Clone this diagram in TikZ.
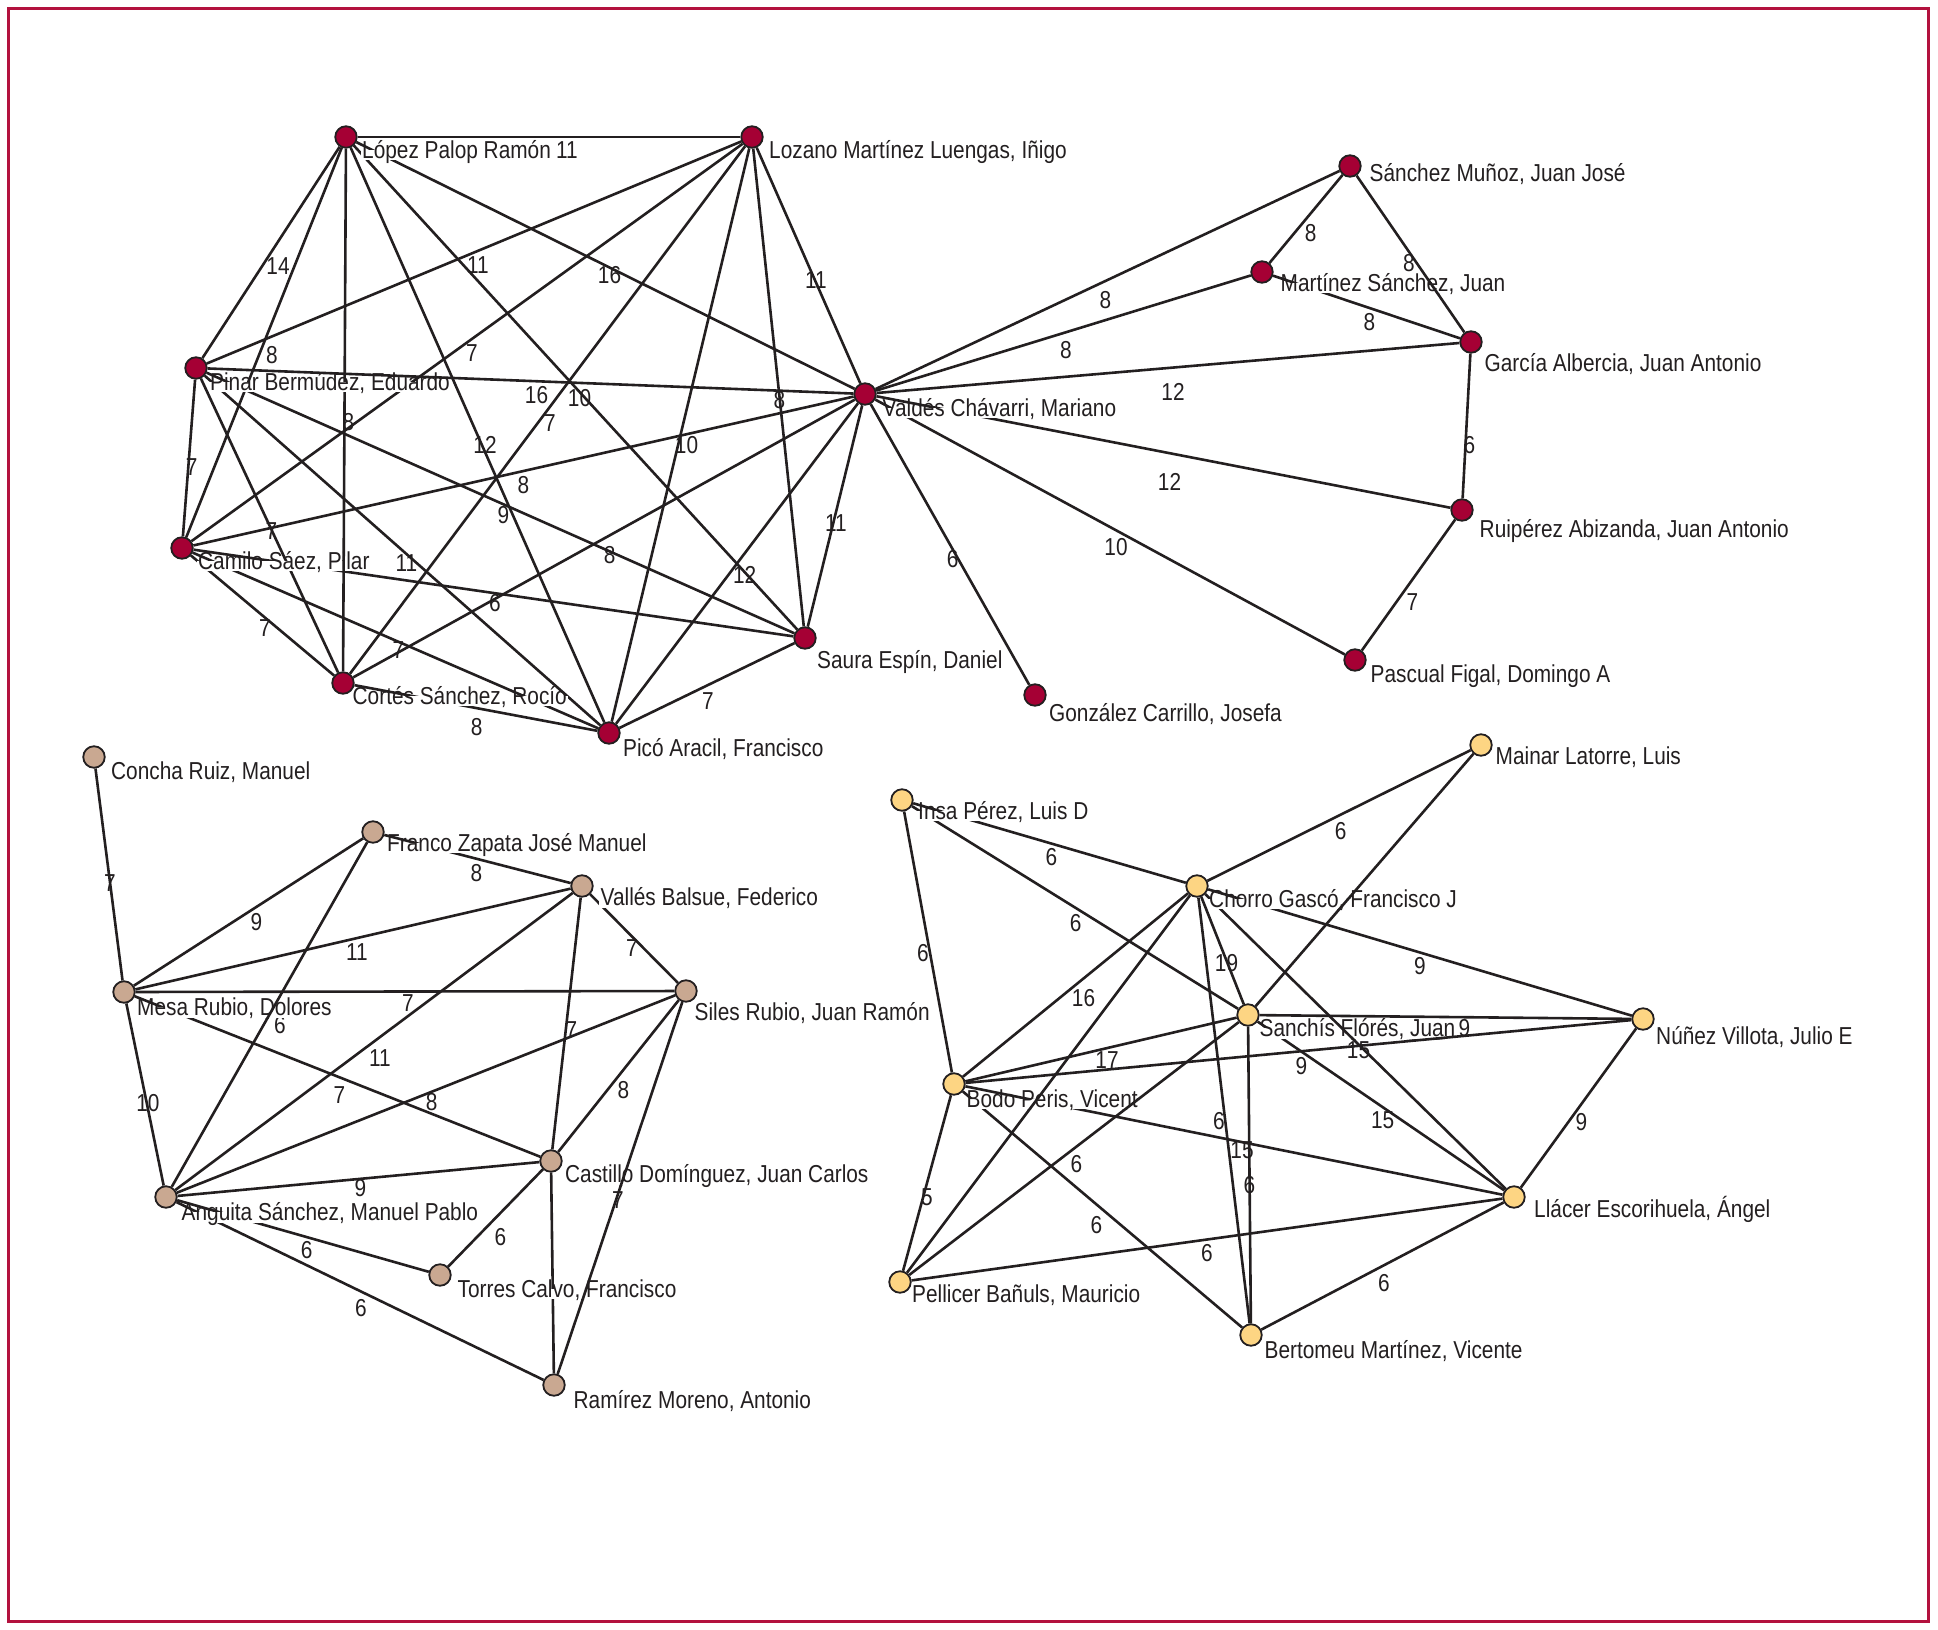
\documentclass[tikz,border=0pt]{standalone}
\usepackage{fontspec}
\setmainfont{Liberation Sans}[FakeStretch=0.85]
\definecolor{redc}{HTML}{A50034}
\definecolor{tanc}{HTML}{C9A891}
\definecolor{yelc}{HTML}{FDD583}
\definecolor{edgec}{HTML}{231F20}
\definecolor{framec}{HTML}{B3123E}
\pgfdeclarelayer{edgesl}
\pgfdeclarelayer{labelsl}
\pgfdeclarelayer{overl}
\pgfsetlayers{edgesl,labelsl,overl,main}
\tikzset{
 every node/.style={font=\fontsize{24.5}{29}\selectfont, text=edgec},
 vtx/.style={circle, draw=edgec, line width=1.8pt, minimum size=21.5pt, inner sep=0pt},
 rv/.style={vtx, fill=redc}, tv/.style={vtx, fill=tanc}, yv/.style={vtx, fill=yelc},
 edge/.style={draw=edgec, line width=2.6pt},
 nlab/.style={fill=white, inner sep=1.5pt, text height=0.72em, text depth=0.04em, anchor=west, yshift=-4pt},
 wl/.style 2 args={inner sep=0pt, xshift=#1pt, yshift=-#2pt},
}
\begin{document}
\begin{tikzpicture}[x=1pt,y=-1pt]
\useasboundingbox (0,0) rectangle (1938,1630);
\draw[framec, line width=3pt] (8.7,8.7) rectangle (1928.3,1621.6);
% ---------- vertices ----------
\node[rv] (L)  at (346,137) {};
\node[rv] (Lz) at (752,137) {};
\node[rv] (P)  at (196,368) {};
\node[rv] (V)  at (865,394) {};
\node[rv] (C)  at (182,548) {};
\node[rv] (Co) at (343,683) {};
\node[rv] (Pi) at (609,733) {};
\node[rv] (S)  at (805,638) {};
\node[rv] (G)  at (1035,695) {};
\node[rv] (SM) at (1350,166) {};
\node[rv] (MS) at (1262,272) {};
\node[rv] (Ga) at (1471,342) {};
\node[rv] (R)  at (1462,510) {};
\node[rv] (Pa) at (1355,660) {};
\node[tv] (Cn) at (94,757) {};
\node[tv] (F)  at (373,832) {};
\node[tv] (Va) at (582,886) {};
\node[tv] (M)  at (124,992) {};
\node[tv] (Si) at (686,991) {};
\node[tv] (Ca) at (551,1161) {};
\node[tv] (A)  at (166,1197) {};
\node[tv] (T)  at (440,1275) {};
\node[tv] (Ra) at (554,1385) {};
\node[yv] (I)  at (902,800) {};
\node[yv] (Ch) at (1197,886) {};
\node[yv] (Ma) at (1481,745) {};
\node[yv] (Sa) at (1248,1015) {};
\node[yv] (N)  at (1643,1019) {};
\node[yv] (B)  at (954,1084) {};
\node[yv] (Ll) at (1514,1197) {};
\node[yv] (Pe) at (900,1282) {};
\node[yv] (Be) at (1251,1335) {};
% ---------- edges ----------
\begin{pgfonlayer}{edgesl}
\draw[edge] (L) -- node[wl={18}{13}]{11} (Lz);
\draw[edge] (L) -- node[wl={7}{14}]{14} (P);
\draw[edge] (L) -- node[wl={8}{12.5}]{8} (C);
\draw[edge] (L) -- node[wl={4}{12}]{8} (Co);
\draw[edge] (L) -- node[wl={7.5}{10}]{12} (Pi);
\draw[edge] (L) -- node[wl={4}{10.5}]{10} (S);
\draw[edge] (L) -- node[wl={4}{9.5}]{16} (V);
\draw[edge] (Lz) -- node[wl={4}{12.5}]{11} (P);
\draw[edge] (Lz) -- node[wl={5}{11}]{7} (C);
\draw[edge] (Lz) -- node[wl={2.5}{13}]{7} (Co);
\draw[edge] (Lz) -- node[wl={6}{10}]{10} (Pi);
\draw[edge] (Lz) -- node[wl={1}{12.5}]{8} (S);
\draw[edge] (Lz) -- node[wl={7.5}{14.5}]{11} (V);
\draw[edge] (P) -- node[wl={6}{14}]{16} (V);
\draw[edge] (P) -- node[wl={2.6}{9}]{7} (C);
\draw[edge] (P) -- node[wl={2}{6}]{7} (Co);
\draw[edge] (P) -- node[wl={4}{13}]{11} (Pi);
\draw[edge] (P) -- node[wl={3}{12}]{9} (S);
\draw[edge] (C) -- node[wl={0}{14}]{8} (V);
\draw[edge] (C) -- node[wl={1.5}{10}]{6} (S);
\draw[edge] (C) -- node[wl={2.5}{13}]{7} (Co);
\draw[edge] (C) -- node[wl={3}{10}]{7} (Pi);
\draw[edge] (Co) -- node[wl={5.6}{16.5}]{8} (V);
\draw[edge] (Co) -- node[wl={0.7}{18.7}]{8} (Pi);
\draw[edge] (V) -- node[wl={7.7}{11.5}]{12} (Pi);
\draw[edge] (V) -- node[wl={1}{7}]{11} (S);
\draw[edge] (V) -- node[wl={2.7}{15}]{6} (G);
\draw[edge] (V) -- node[wl={-2}{20}]{8} (SM);
\draw[edge] (V) -- node[wl={2.5}{17}]{8} (MS);
\draw[edge] (V) -- node[wl={5}{23.7}]{12} (Ga);
\draw[edge] (V) -- node[wl={6}{30}]{12} (R);
\draw[edge] (V) -- node[wl={6}{20}]{10} (Pa);
\draw[edge] (Pi) -- node[wl={1}{16}]{7} (S);
\draw[edge] (SM) -- node[wl={4.7}{14}]{8} (MS);
\draw[edge] (SM) -- node[wl={-1.6}{9}]{8} (Ga);
\draw[edge] (MS) -- node[wl={3}{14.7}]{8} (Ga);
\draw[edge] (Ga) -- node[wl={3}{19}]{6} (R);
\draw[edge] (R) -- node[wl={4}{16.7}]{7} (Pa);
% bottom-left
\draw[edge] (Cn) -- node[wl={1}{9}]{7} (M);
\draw[edge] (M) -- node[wl={8}{10}]{9} (F);
\draw[edge] (M) -- node[wl={4}{13}]{11} (Va);
\draw[edge] (M) -- node[wl={3}{12}]{7} (Si);
\draw[edge] (F) -- node[wl={10.5}{10.5}]{6} (A);
\draw[edge] (F) -- node[wl={-1}{14}]{8} (Va);
\draw[edge] (M) -- node[wl={3}{9}]{10} (A);
\draw[edge] (M) -- node[wl={2}{18.5}]{7} (Ca);
\draw[edge] (A) -- node[wl={5.6}{7.7}]{8} (Si);
\draw[edge] (A) -- node[wl={6}{17}]{11} (Va);
\draw[edge] (Va) -- node[wl={-2}{10}]{7} (Si);
\draw[edge] (Va) -- node[wl={5}{6.5}]{7} (Ca);
\draw[edge] (Si) -- node[wl={5}{14}]{8} (Ca);
\draw[edge] (Si) -- node[wl={-2}{12}]{7} (Ra);
\draw[edge] (A) -- node[wl={2}{9}]{9} (Ca);
\draw[edge] (A) -- node[wl={3.6}{14}]{6} (T);
\draw[edge] (A) -- node[wl={1}{17}]{6} (Ra);
\draw[edge] (Ca) -- node[wl={5}{18.7}]{6} (T);
\draw[edge] (Ca) -- (Ra);
% bottom-right
\draw[edge] (I) -- node[wl={-5}{11}]{6} (B);
\draw[edge] (I) -- node[wl={2}{13.7}]{6} (Ch);
\draw[edge] (I) -- node[wl={0.7}{16}]{6} (Sa);
\draw[edge] (Ch) -- node[wl={1.7}{16}]{6} (Ma);
\draw[edge] (Ma) -- (Sa);
\draw[edge] (Ch) -- node[wl={0}{14}]{9} (N);
\draw[edge] (Ch) -- node[wl={4}{13}]{19} (Sa);
\draw[edge] (Ch) -- node[wl={8}{13}]{16} (B);
\draw[edge] (Ch) -- (Pe);
\draw[edge] (Ch) -- node[wl={3}{8.5}]{15} (Ll);
\draw[edge] (Ch) -- node[wl={-5}{11}]{6} (Be);
\draw[edge] (Sa) -- node[wl={19}{11}]{9} (N);
\draw[edge] (B) -- node[wl={6}{10.5}]{17} (Sa);
\draw[edge] (B) -- node[wl={3}{15}]{9} (N);
\draw[edge] (Sa) -- node[wl={1.6}{14}]{15} (Ll);
\draw[edge] (Sa) -- node[wl={0}{10}]{6} (Be);
\draw[edge] (Sa) -- node[wl={2.4}{15.5}]{6} (Pe);
\draw[edge] (N) -- node[wl={3}{14}]{9} (Ll);
\draw[edge] (B) -- node[wl={8}{9.5}]{15} (Ll);
\draw[edge] (B) -- node[wl={-6}{15.5}]{6} (Be);
\draw[edge] (B) -- node[wl={0}{13.7}]{5} (Pe);
\draw[edge] (Pe) -- node[wl={0}{14}]{6} (Ll);
\draw[edge] (Be) -- node[wl={1.5}{17}]{6} (Ll);
\end{pgfonlayer}
% ---------- vertex labels ----------
\begin{pgfonlayer}{labelsl}
\node[nlab] (Llab)  at ([shift={(14.5,14)}]L.center)  {López Palop Ramón};
\node[nlab] (Lzlab) at ([shift={(15.5,14)}]Lz.center) {Lozano Martínez Luengas, Iñigo};
\node[nlab] (Plab)  at ([shift={(12.5,15)}]P.center)  {Pinar Bermúdez, Eduardo};
\node[nlab] (Vlab)  at ([shift={(16,15)}]V.center)    {Valdés Chávarri, Mariano};
\node[nlab] (Clab)  at ([shift={(14.5,14)}]C.center)  {Camilo Sáez, Pilar};
\node[nlab] (Colab) at ([shift={(8,14)}]Co.center)    {Cortés Sánchez, Rocío};
\node[nlab] (Pilab) at ([shift={(12.5,16)}]Pi.center) {Picó Aracil, Francisco};
\node[nlab] (Slab)  at ([shift={(10.5,23)}]S.center)  {Saura Espín, Daniel};
\node[nlab] (Glab)  at ([shift={(12.5,19)}]G.center)  {González Carrillo, Josefa};
\node[nlab] (SMlab) at ([shift={(18,8)}]SM.center)    {Sánchez Muñoz, Juan José};
\node[nlab] (MSlab) at ([shift={(17,12)}]MS.center)   {Martínez Sánchez, Juan};
\node[nlab] (Galab) at ([shift={(12,22.5)}]Ga.center) {García Albercia, Juan Antonio};
\node[nlab] (Rlab)  at ([shift={(16,20)}]R.center)    {Ruipérez Abizanda, Juan Antonio};
\node[nlab] (Palab) at ([shift={(14,15)}]Pa.center)   {Pascual Figal, Domingo A};
\node[nlab] (Cnlab) at ([shift={(15.5,15.5)}]Cn.center) {Concha Ruiz, Manuel};
\node[nlab] (Flab)  at ([shift={(12.5,12)}]F.center)  {Franco Zapata José Manuel};
\node[nlab] (Valab) at ([shift={(17,12.5)}]Va.center) {Vallés Balsue, Federico};
\node[nlab] (Mlab)  at ([shift={(11.5,16.5)}]M.center) {Mesa Rubio, Dolores};
\node[nlab] (Silab) at ([shift={(7,22.5)}]Si.center)  {Siles Rubio, Juan Ramón};
\node[nlab] (Calab) at ([shift={(12.5,14.5)}]Ca.center) {Castillo Domínguez, Juan Carlos};
\node[nlab] (Alab)  at ([shift={(14,16.5)}]A.center)  {Anguita Sánchez, Manuel Pablo};
\node[nlab] (Tlab)  at ([shift={(16,15)}]T.center)    {Torres Calvo, Francisco};
\node[nlab] (Ralab) at ([shift={(18,16.5)}]Ra.center) {Ramírez Moreno, Antonio};
\node[nlab] (Ilab)  at ([shift={(14.5,12)}]I.center)  {Insa Pérez, Luis D};
\node[nlab] (Malab) at ([shift={(13,12.5)}]Ma.center) {Mainar Latorre, Luis};
\node[nlab] (Chlab) at ([shift={(10.5,14)}]Ch.center) {Chorro Gascó, Francisco J};
\node[nlab] (Salab) at ([shift={(10,14.5)}]Sa.center) {Sanchís Flórés, Juan};
\node[nlab] (Nlab)  at ([shift={(11.5,18)}]N.center)  {Núñez Villota, Julio E};
\node[nlab] (Blab)  at ([shift={(11,16)}]B.center)    {Bodo Peris, Vicent};
\node[nlab] (Lllab) at ([shift={(18.5,13)}]Ll.center) {Llácer Escorihuela, Ángel};
\node[nlab] (Pelab) at ([shift={(10.5,13)}]Pe.center) {Pellicer Bañuls, Mauricio};
\node[nlab] (Belab) at ([shift={(12,16)}]Be.center)   {Bertomeu Martínez, Vicente};
\end{pgfonlayer}
% ---------- connectors that run over vertex labels ----------
\begin{pgfonlayer}{overl}
\begin{scope}\clip (Clab.south west) rectangle (Clab.north east); \draw[edge] (L) -- (Co); \end{scope}
\begin{scope}\clip (MSlab.south west) rectangle (MSlab.north east); \draw[edge] (SM) -- (Ga); \end{scope}
\begin{scope}\clip (Mlab.south west) rectangle (Mlab.north east); \draw[edge] (F) -- (A); \end{scope}
\begin{scope}\clip (Calab.south west) rectangle (Calab.north east); \draw[edge] (Si) -- (Ra); \end{scope}
\begin{scope}\clip (Tlab.south west) rectangle (Tlab.north east); \draw[edge] (Si) -- (Ra); \end{scope}
\begin{scope}\clip (Chlab.south west) rectangle (Chlab.north east); \draw[edge] (Ma) -- (Sa); \end{scope}
\begin{scope}\clip (Salab.south west) rectangle (Salab.north east); \draw[edge] (Ch) -- (Ll); \draw[edge] (B) -- (N); \end{scope}
\begin{scope}\clip (Blab.south west) rectangle (Blab.north east); \draw[edge] (Ch) -- (Pe); \draw[edge] (Sa) -- (Pe); \end{scope}
\end{pgfonlayer}
\end{tikzpicture}
\end{document}
